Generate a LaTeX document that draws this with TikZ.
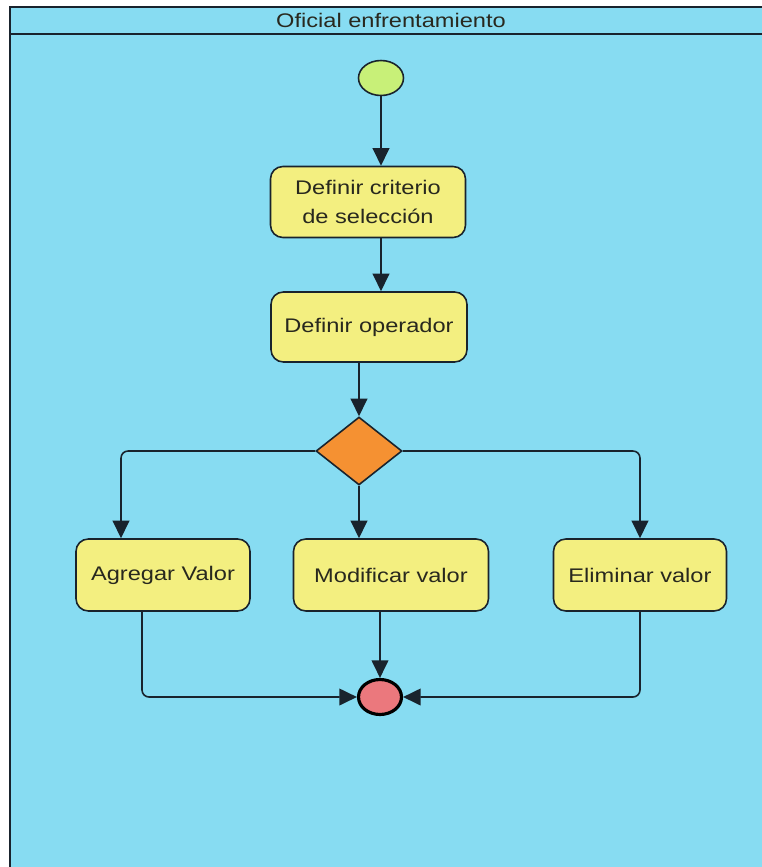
\documentclass[tikz,border=0pt]{standalone}
\usepackage{fontspec}
\setmainfont{Liberation Sans}[FakeStretch=1.2]
\usetikzlibrary{shapes.geometric,arrows.meta,calc}

\definecolor{lane}{RGB}{135,220,242}
\definecolor{actfill}{RGB}{243,239,128}
\definecolor{startfill}{RGB}{200,240,120}
\definecolor{decfill}{RGB}{245,145,50}
\definecolor{endfill}{RGB}{235,120,125}
\definecolor{ink}{RGB}{25,35,45}
\definecolor{txt}{RGB}{40,40,30}

\tikzset{
  activity/.style={rectangle, rounded corners=7pt, draw=ink, line width=0.9pt,
    fill=actfill, align=center, text=txt, font=\fontsize{11.2}{16}\selectfont},
  flow/.style={draw=ink, line width=0.9pt, rounded corners=4pt,
    -{Triangle[length=10pt,width=9.5pt]}}
}

\begin{document}
\begin{tikzpicture}[x=0.02cm, y=-0.02cm]
        \useasboundingbox (0,0) rectangle (762,867);
        % Lane
        \fill[white] (0,0) rectangle (762,867);
        \fill[lane] (10,7) rectangle (762,867);
        \draw[ink, line width=0.9pt] (10,867) -- (10,7) -- (762,7);
        \draw[ink, line width=0.9pt] (10,34) -- (762,34);
        \node[font=\fontsize{11.2}{13}\selectfont, text=txt] (lanetitle) at (391,20) {Oficial enfrentamiento};

        % Nodes
        \node[ellipse, draw=ink, line width=0.9pt, fill=startfill, inner sep=0pt,
              minimum width=0.9cm, minimum height=0.7cm] (start) at (381,78) {};
        \node[activity, minimum width=3.9cm, minimum height=1.42cm] (crit) at (368,202) {Definir criterio\\de selección};
        \node[activity, minimum width=3.92cm, minimum height=1.4cm] (oper) at (369,327) {Definir operador};
        \node[diamond, draw=ink, line width=0.9pt, fill=decfill, inner sep=0pt,
              minimum width=1.72cm, minimum height=1.36cm, aspect=1.26] (dec) at (359,451) {};
        \node[activity, minimum width=3.48cm, minimum height=1.44cm] (agr) at (163,575) {Agregar Valor};
        \node[activity, minimum width=3.9cm, minimum height=1.44cm] (mod) at (391,575) {Modificar valor};
        \node[activity, minimum width=3.46cm, minimum height=1.44cm] (elim) at (640,575) {Eliminar valor};
        \node[ellipse, draw=black, line width=1.8pt, fill=endfill, inner sep=0pt,
              minimum width=0.86cm, minimum height=0.7cm] (end) at (380,697) {};

        % Edges
        \draw[flow] (start.south) -- (start.south |- crit.north);
        \draw[flow] (crit.south -| start) -- (oper.north -| start);
        \draw[flow] (oper.south -| dec) -- (dec.north);
        \draw[flow] (dec.west) -| ($(agr.north)+(-42,0)$);
        \draw[flow] (dec.south) -- (dec.south |- mod.north);
        \draw[flow] (dec.east) -| (elim.north);
        \draw[flow] ($(agr.south)+(-21,0)$) |- (end.west);
        \draw[flow] (mod.south -| end) -- (end.north);
        \draw[flow] (elim.south) |- (end.east);
    \end{tikzpicture}
\end{document}
